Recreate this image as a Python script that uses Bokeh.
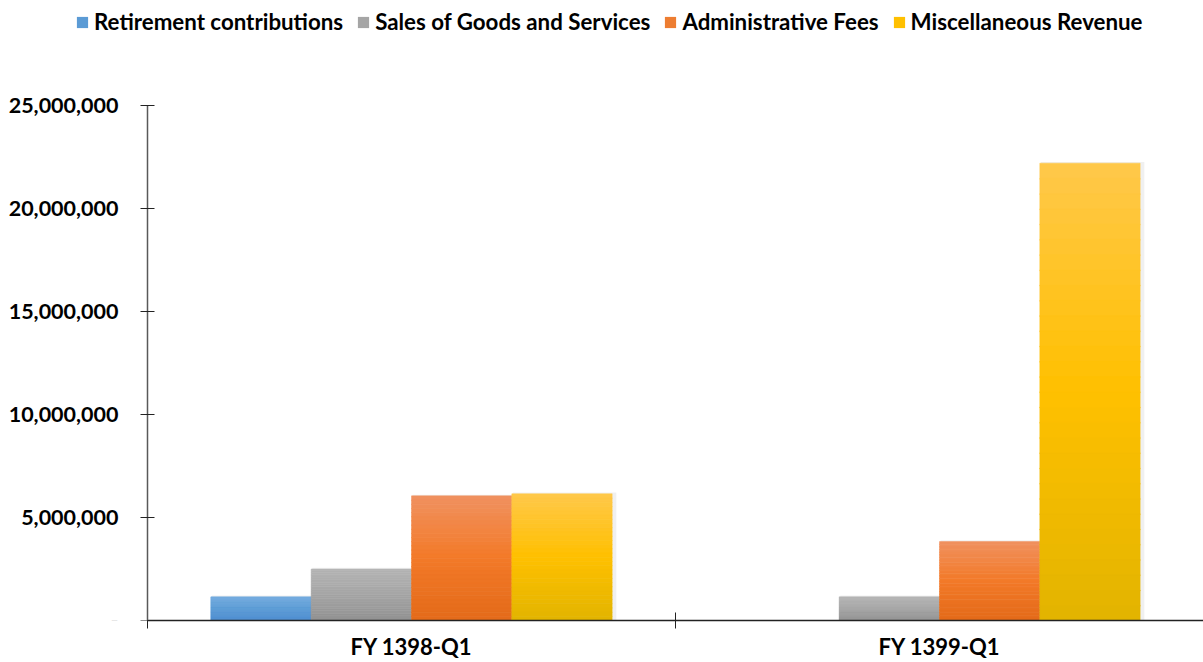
from bokeh.plotting import figure
from bokeh.models import (ColumnDataSource, Range1d, FixedTicker, NumeralTickFormatter,
                          Legend, LegendItem)
from bokeh.embed import file_html
from bokeh.resources import INLINE

# ---- data ----
categories = ["FY 1398-Q1", "FY 1399-Q1"]
series = ["Retirement contributions", "Sales of Goods and Services",
          "Administrative Fees", "Miscellaneous Revenue"]
retirement = [1150000, 0]
sales = [2500000, 1150000]
admin_fees = [6050000, 3830000]
misc_revenue = [6150000, 22200000]
y_ticks = [0, 5000000, 10000000, 15000000, 20000000, 25000000]

values = [retirement, sales, admin_fees, misc_revenue]
# gradient stops (top, middle, bottom) per series
stops = [
    ("#72aae0", "#5b9bd5", "#4a8bd0"),
    ("#b5b5b5", "#a5a5a5", "#929292"),
    ("#f09160", "#f37a28", "#e36a1a"),
    ("#ffc84a", "#ffc000", "#e2b400"),
]
legend_colors = ["#5b9bd5", "#a5a5a5", "#ed7d31", "#ffc000"]

FONT = "Lato"
W, H = 1203, 662
AXIS_LEFT, FRAME_BOTTOM, AXIS_TOP = 147, 620, 105
y_max = y_ticks[-1]
y_end = y_max * FRAME_BOTTOM / (FRAME_BOTTOM - AXIS_TOP)
n_cat = len(categories)
x_start = -n_cat * AXIS_LEFT / (W - AXIS_LEFT)

def hex2rgb(h):
    h = h.lstrip("#")
    return tuple(int(h[i:i + 2], 16) for i in (0, 2, 4))

def mix(a, b, t):
    ra, rb = hex2rgb(a), hex2rgb(b)
    return "#%02x%02x%02x" % tuple(int(round(ra[i] + (rb[i] - ra[i]) * t)) for i in range(3))

def grad(c, t):
    top, mid, bot = c
    if t < 0.5:
        return mix(top, mid, t / 0.5)
    return mix(mid, bot, (t - 0.5) / 0.5)

p = figure(width=W, height=H, output_backend="svg", toolbar_location=None,
           x_range=Range1d(x_start, n_cat), y_range=Range1d(0, y_end),
           min_border_left=0, min_border_right=0, min_border_top=0,
           min_border_bottom=H - FRAME_BOTTOM)
p.outline_line_color = None
p.xgrid.visible = False
p.ygrid.visible = False
p.background_fill_color = "white"
p.border_fill_color = "white"

bar_w = 0.19
offsets = [-1.5, -0.5, 0.5, 1.5]
N = 30
for si, vals in enumerate(values):
    xs, bots, tops, cols = [], [], [], []
    sx, sb, st = [], [], []
    for ci, v in enumerate(vals):
        if v <= 0:
            continue
        x = ci + 0.5 + offsets[si] * bar_w
        sx.append(x + 0.005)
        st.append(v + 60000)
        sb.append(0)
        for k in range(N):
            t0 = k / N
            t1 = (k + 1) / N
            xs.append(x)
            tops.append(v * (1 - t0))
            bots.append(v * (1 - t1) - (v * 0.002 if k < N - 1 else 0))
            cols.append(grad(stops[si], (t0 + t1) / 2))
    # soft shadow
    p.vbar(x=sx, top=st, bottom=sb, width=bar_w + 0.006, fill_color="#000000",
           fill_alpha=0.06, line_color=None)
    src = ColumnDataSource(dict(x=xs, top=tops, bottom=bots, color=cols))
    p.vbar(x="x", top="top", bottom="bottom", width=bar_w, fill_color="color",
           line_color="color", line_width=0.5, source=src)

# legend (renderers hold one point outside the visible range)
items = []
for si, name in enumerate(series):
    r = p.vbar(x=[-50], top=[1], width=0.1, fill_color=legend_colors[si], line_color=None)
    items.append(LegendItem(label=name, renderers=[r]))
legend = Legend(items=items, orientation="horizontal", location=(75, FRAME_BOTTOM - 35),
                glyph_width=14, glyph_height=14, label_standoff=5, spacing=13,
                padding=0, margin=0, border_line_color=None, background_fill_alpha=0,
                label_text_font=FONT, label_text_font_style="bold",
                label_text_font_size="22.3px", label_text_color="#000000",
                label_height=20)
p.add_layout(legend, "center")

# y axis, drawn at x = 0 (the start of the category axis)
ya = p.yaxis[0]
ya.fixed_location = 0
ya.bounds = (0, y_max)
ya.ticker = FixedTicker(ticks=y_ticks, minor_ticks=[])
ya.formatter = NumeralTickFormatter(format="0,0")
ya.major_label_overrides = {0: "-"}
ya.major_label_text_font = FONT
ya.major_label_text_font_style = "bold"
ya.major_label_text_font_size = "21.5px"
ya.major_label_text_color = "#000000"
ya.major_label_standoff = 22
ya.axis_line_color = "#595959"
ya.axis_line_width = 1.5
ya.major_tick_in = 7
ya.major_tick_out = 7
ya.major_tick_line_color = "#222222"
ya.minor_tick_line_color = None

# x axis
xa = p.xaxis[0]
xa.bounds = (0, n_cat)
xa.ticker = FixedTicker(ticks=[0.5, 1.5], minor_ticks=[0, 1, 2])
xa.major_label_overrides = {0.5: categories[0], 1.5: categories[1]}
xa.major_label_text_font = FONT
xa.major_label_text_font_style = "bold"
xa.major_label_text_font_size = "22px"
xa.major_label_text_color = "#000000"
xa.major_label_standoff = 4
xa.major_tick_in = 0
xa.major_tick_out = 0
xa.minor_tick_in = 8
xa.minor_tick_out = 8
xa.minor_tick_line_color = "#222222"
xa.axis_line_color = "#222222"
xa.axis_line_width = 1.5

open("out.html", "w").write(file_html(p, INLINE))
